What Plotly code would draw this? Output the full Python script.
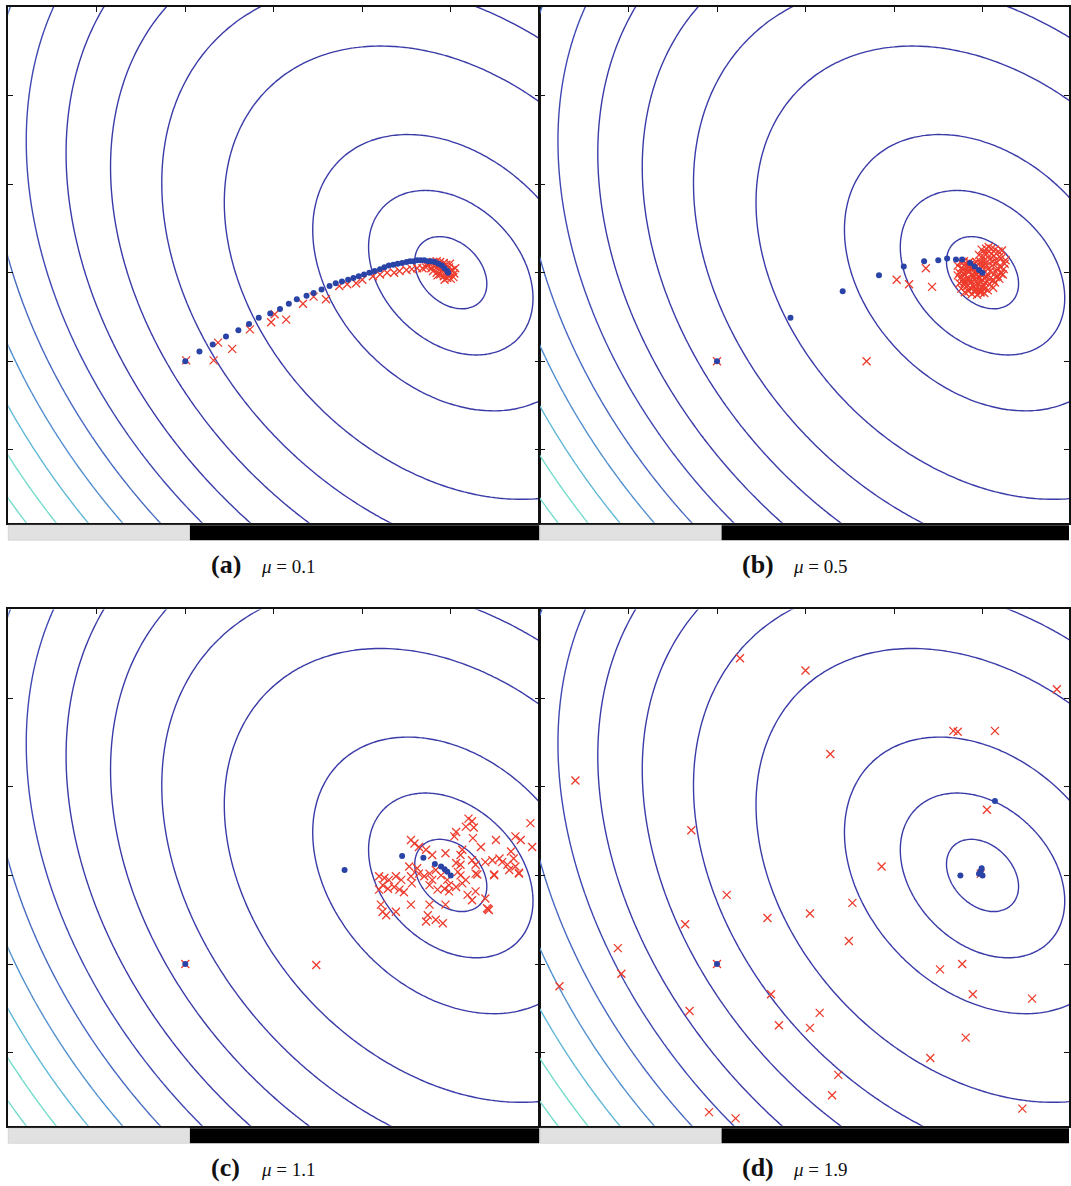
import numpy as np
import plotly.graph_objects as go

# ---------------------------------------------------------------------------
# Objective: f(x, y) = dx^2 + 2*b*dx*dy + dy^2 around the minimiser (5, 3)
# ---------------------------------------------------------------------------
centre = (5.0, 3.0)
coupling = 0.31
inner_levels = [0.15, 0.78]            # two small ellipses near the optimum
outer_start, outer_step, outer_end = 2.2, 3.72, 39.4

# swarm-mean trajectory (blue) and sampled particles (red) for each mu
mu_values = ["0.1", "0.5", "1.1", "1.9"]
panel_tags = ["(a)", "(b)", "(c)", "(d)"]

mean_a_x = [2.00, 2.16, 2.31, 2.46, 2.60, 2.72, 2.83, 2.96, 3.07, 3.17, 3.26, 3.37,
            3.45, 3.54, 3.63, 3.70, 3.77, 3.84, 3.90, 3.96, 4.02, 4.08, 4.14, 4.20,
            4.25, 4.30, 4.35, 4.40, 4.45, 4.50, 4.54, 4.58, 4.62, 4.66, 4.70, 4.74,
            4.78, 4.82, 4.86, 4.90, 4.93, 4.96, 4.97]
mean_a_y = [2.00, 2.11, 2.19, 2.28, 2.35, 2.42, 2.49, 2.54, 2.59, 2.65, 2.70, 2.74,
            2.77, 2.81, 2.85, 2.88, 2.90, 2.92, 2.94, 2.96, 2.98, 3.00, 3.02, 3.04,
            3.06, 3.08, 3.09, 3.10, 3.11, 3.12, 3.13, 3.13, 3.14, 3.14, 3.14, 3.13,
            3.13, 3.12, 3.10, 3.08, 3.05, 3.02, 3.00]
sample_a_x = [2.01, 2.32, 2.37, 2.53, 2.73, 2.97, 3.01, 3.14, 3.33, 3.45, 3.59, 3.74,
              3.83, 3.93, 4.00, 4.12, 4.20, 4.28, 4.36, 4.42, 4.50, 4.56, 4.62, 4.68,
              4.72, 4.76, 4.80, 4.84, 4.88, 4.92, 4.95, 4.98, 5.02, 5.04, 5.03, 5.00,
              4.96, 4.92, 4.88, 4.84, 4.80, 4.78, 4.82, 4.86, 4.90, 4.94, 4.97, 4.99,
              4.91, 4.87, 4.85, 4.93, 5.05, 4.99, 4.73]
sample_a_y = [2.01, 2.01, 2.21, 2.14, 2.36, 2.44, 2.53, 2.47, 2.65, 2.73, 2.70, 2.85,
              2.87, 2.88, 2.92, 2.96, 2.98, 3.00, 3.00, 3.02, 3.03, 3.04, 3.05, 3.05,
              3.06, 3.10, 3.12, 3.13, 3.12, 3.11, 3.09, 3.06, 3.03, 2.99, 2.95, 2.93,
              2.94, 2.96, 2.98, 3.00, 3.02, 3.05, 3.07, 3.05, 3.03, 3.01, 2.98, 3.01,
              3.07, 3.09, 2.97, 2.92, 3.05, 3.10, 3.08]

mean_b_x = [2.00, 2.83, 3.42, 3.83, 4.11, 4.34, 4.50, 4.60, 4.70, 4.77, 4.86, 4.91, 4.96, 5.00]
mean_b_y = [2.00, 2.49, 2.79, 2.97, 3.07, 3.13, 3.14, 3.16, 3.15, 3.15, 3.11, 3.07, 3.03, 3.00]
sample_b_x = [2.00, 3.69, 4.03, 4.17, 4.36, 4.43,
              4.74, 4.76, 4.78, 4.80, 4.80, 4.82, 4.83, 4.84, 4.85, 4.86, 4.87, 4.88,
              4.89, 4.90, 4.91, 4.92, 4.93, 4.94, 4.95, 4.96, 4.97, 4.98, 4.99, 5.00,
              5.01, 5.02, 4.77, 4.81, 4.86, 4.72,
              4.98, 5.01, 5.03, 5.05, 5.06, 5.08, 5.10, 5.11, 5.13, 5.15, 5.16, 5.18,
              5.20, 5.21, 5.23, 5.25, 5.07, 5.12, 5.04, 5.17,
              4.97, 5.03, 5.08, 5.12, 4.92, 5.06,
              4.72, 4.74, 4.75, 4.76, 4.78, 4.79, 4.80, 4.81, 4.83, 4.84, 4.85, 4.86,
              4.87, 4.88, 4.89, 4.90, 4.91, 4.92, 4.93, 4.94, 4.95, 4.96, 4.97, 4.98,
              4.99, 5.00, 5.01, 5.02, 5.03, 5.04, 4.82, 4.84, 4.88, 4.76, 4.79, 4.93,
              4.96, 4.99, 5.02, 5.05, 5.07, 5.09, 5.10, 5.12, 5.14, 5.15, 5.17, 5.19,
              5.21, 5.22, 5.24, 5.26, 5.08, 5.14, 5.19, 5.02]
sample_b_y = [2.00, 2.00, 2.92, 2.87, 3.05, 2.84,
              3.00, 2.95, 3.04, 2.90, 2.98, 3.06, 2.86, 2.94, 3.01, 3.09, 2.89, 2.97,
              3.04, 2.84, 2.92, 3.00, 3.07, 2.88, 2.95, 3.03, 2.81, 2.90, 2.98, 3.06,
              2.86, 2.94, 2.91, 3.10, 2.83, 2.97,
              3.12, 3.18, 3.10, 3.22, 3.04, 3.15, 3.27, 3.08, 3.19, 3.01, 3.12, 3.24,
              3.06, 3.16, 2.98, 3.10, 2.97, 2.92, 3.27, 2.96,
              2.78, 2.82, 2.87, 2.83, 2.79, 2.80,
              3.08, 2.88, 3.12, 2.82, 2.99, 3.13, 2.78, 2.93, 3.02, 2.79, 3.12, 2.92,
              3.03, 2.76, 2.86, 3.10, 2.96, 2.81, 3.12, 2.75, 3.00, 2.87, 2.94, 2.78,
              3.09, 2.83, 2.99, 2.77, 2.89, 2.95, 2.84, 3.07, 3.06, 3.05, 2.87, 2.90,
              3.20, 3.26, 3.14, 3.08, 3.29, 3.02, 3.21, 3.13, 3.26, 2.95, 3.05, 3.18,
              2.99, 3.25, 3.04, 3.14, 2.93, 2.89, 2.93, 3.22]

mean_c_x = [2.00, 3.80, 4.45, 4.69, 4.82, 4.89, 4.93, 4.96, 5.00]
mean_c_y = [2.00, 3.06, 3.22, 3.20, 3.13, 3.10, 3.07, 3.04, 3.00]
sample_c_x = [2.00, 3.48,
              5.20, 5.24, 5.17, 5.06, 5.04, 5.26, 5.25, 5.34, 5.90, 5.73, 5.79, 5.92,
              5.51, 5.68, 5.71,
              4.19, 4.25, 4.30, 4.38, 4.44, 4.23, 4.29, 4.36, 4.42, 4.47, 4.19, 4.55, 4.56,
              4.55, 4.59, 4.64, 4.72,
              4.79, 4.94, 5.11, 5.13, 5.24, 5.28, 5.39, 5.47, 5.55, 5.58, 5.64, 5.73,
              5.66, 5.77, 5.49, 5.30, 5.08, 5.11, 5.17, 5.13, 5.06, 4.96, 4.98, 4.93,
              4.85, 4.76, 4.79, 4.70, 4.64, 4.76, 4.89, 4.83, 4.98, 5.19, 5.28, 5.24,
              5.39, 5.41, 5.43, 4.94, 4.76, 4.74, 4.83, 4.72, 4.91, 4.55, 4.38, 4.23,
              4.21, 4.27, 4.53, 4.62, 5.06, 5.11, 5.28, 5.49, 5.77, 5.42]
sample_c_y = [2.00, 1.99,
              3.64, 3.61, 3.55, 3.49, 3.44, 3.54, 3.42, 3.32, 3.59, 3.44, 3.40, 3.32,
              3.40, 3.27, 3.19,
              2.99, 2.97, 2.95, 2.99, 2.95, 2.89, 2.85, 2.87, 2.84, 2.81, 2.84, 2.99, 2.91,
              3.40, 3.36, 3.32, 3.29,
              3.23, 3.25, 3.23, 3.29, 3.17, 3.12, 3.15, 3.17, 3.19, 3.15, 3.12, 3.10,
              3.06, 3.02, 3.01, 3.01, 3.04, 3.00, 2.95, 2.91, 2.87, 2.95, 2.89, 2.85,
              2.84, 2.89, 2.95, 2.99, 3.02, 3.02, 3.00, 3.06, 2.82, 2.78, 2.82, 2.72,
              2.74, 2.63, 2.61, 2.67, 2.67, 2.55, 2.50, 2.48, 2.46, 2.67, 2.59, 2.59,
              2.67, 2.55, 3.10, 3.08, 3.14, 3.12, 3.02, 3.00, 3.03, 2.62]

mean_d_x = [2.00, 5.14, 4.75, 4.96, 4.98, 4.99, 5.00]
mean_d_y = [2.00, 3.84, 3.00, 3.02, 3.05, 3.08, 3.00]
sample_d_x = [2.26, 3.00, 5.84, 4.67, 4.72, 5.14, 3.28, 0.40, 1.71, 5.05, 3.86, 4.98,
              2.11, 3.53, 3.05, 2.57, 1.64, 3.49, 0.88, 2.00, 0.92, 0.22, 4.52, 4.77,
              4.89, 5.56, 2.61, 1.69, 3.16, 2.70, 3.05, 4.81, 4.41, 3.37, 3.30, 5.45,
              1.91, 2.21]
sample_d_y = [5.45, 5.31, 5.10, 4.63, 4.62, 4.63, 4.37, 4.07, 3.51, 3.74, 3.10, 3.02,
              2.78, 2.69, 2.57, 2.52, 2.45, 2.26, 2.18, 2.00, 1.89, 1.75, 1.94, 2.00,
              1.66, 1.61, 1.66, 1.47, 1.45, 1.31, 1.28, 1.17, 0.94, 0.75, 0.52, 0.37,
              0.33, 0.26]

means = [(mean_a_x, mean_a_y), (mean_b_x, mean_b_y), (mean_c_x, mean_c_y), (mean_d_x, mean_d_y)]
samples = [(sample_a_x, sample_a_y), (sample_b_x, sample_b_y),
           (sample_c_x, sample_c_y), (sample_d_x, sample_d_y)]

# ---------------------------------------------------------------------------
W, H = 1071, 1186
LINE_DARK = "#3b3ba8"
# colours of the outer iso-lines, from the lowest level to the highest
outer_scale = [[0.0, LINE_DARK], [0.5, LINE_DARK], [0.6, "#4152b6"], [0.7, "#4a74c6"],
               [0.8, "#5698d2"], [0.9, "#61bcd8"], [1.0, "#74dccb"]]


def f(xg, yg):
    dx = xg - centre[0]
    dy = yg - centre[1]
    return dx * dx + 2 * coupling * dx * dy + dy * dy


gx = np.round(np.linspace(-0.1, 6.1, 125), 4)
gy = np.round(np.linspace(0.0, 6.1, 123), 4)
ZX, ZY = np.meshgrid(gx, gy)
Z_outer = np.round(f(ZX, ZY), 3)

hx = np.round(np.linspace(3.8, 6.2, 97), 4)
hy = np.round(np.linspace(1.8, 4.2, 97), 4)
HX, HY = np.meshgrid(hx, hy)
Z_inner = np.round(f(HX, HY), 4)


def px(x):
    return x / W


def py(y):
    return 1 - y / H


# pixel boxes of the four plotting areas: (left, right, top, bottom), x-range end
panels = [
    (8.3, 540.3, 7.0, 522.7, 6.0),
    (541.0, 1071.0, 7.0, 522.7, 5.977),
    (8.3, 540.3, 609.4, 1125.8, 6.0),
    (541.0, 1071.0, 609.4, 1125.8, 5.977),
]
y_bottom = [0.177, 0.177, 0.176, 0.176]

fig = go.Figure()
layout_axes = {}
shapes = []
annotations = []

for i, (l, r, t, b, xr) in enumerate(panels):
    n = "" if i == 0 else str(i + 1)
    xa, ya = "x" + n, "y" + n

    fig.add_trace(go.Contour(
        x=gx, y=gy, z=Z_outer, xaxis=xa, yaxis=ya,
        contours=dict(start=outer_start, end=outer_end + 0.05, size=outer_step, coloring="lines"),
        colorscale=outer_scale, zauto=False, zmin=outer_start, zmax=outer_end,
        line=dict(width=1.4), showscale=False, hoverinfo="skip"))
    fig.add_trace(go.Contour(
        x=hx, y=hy, z=Z_inner, xaxis=xa, yaxis=ya,
        contours=dict(start=inner_levels[0], end=inner_levels[1] + 0.01,
                      size=inner_levels[1] - inner_levels[0], coloring="none"),
        line=dict(width=1.4, color=LINE_DARK), showscale=False, hoverinfo="skip"))

    sx, sy = samples[i]
    fig.add_trace(go.Scatter(
        x=sx, y=sy, xaxis=xa, yaxis=ya, mode="markers",
        marker=dict(symbol="x-thin", size=8, line=dict(width=1.3, color="#ee3b2c")),
        hoverinfo="skip"))
    mx, my = means[i]
    fig.add_trace(go.Scatter(
        x=mx, y=my, xaxis=xa, yaxis=ya, mode="markers",
        marker=dict(symbol="circle", size=6, color="#2a43a6", line=dict(width=0)),
        hoverinfo="skip"))

    common = dict(showgrid=False, zeroline=False, showline=True, linecolor="#111",
                  linewidth=1.5, ticks="inside", ticklen=5, tickwidth=1.2,
                  tickcolor="#111", tickvals=[1, 2, 3, 4, 5], showticklabels=False,
                  fixedrange=True)
    layout_axes["xaxis" + n] = dict(common, domain=[px(l), px(r)], range=[0, xr],
                                    anchor=ya, side="top", mirror=True)
    layout_axes["yaxis" + n] = dict(common, domain=[py(b), py(t)],
                                    range=[y_bottom[i], 6.0], anchor=xa, mirror="ticks")

    # slider strip under each plot
    split = l + 182.0
    shapes.append(dict(type="rect", xref="paper", yref="paper",
                       x0=px(l), x1=px(split), y0=py(b + 17.5), y1=py(b + 2.5),
                       fillcolor="#e1e1e1", line=dict(width=0.6, color="#c8c8c8")))
    shapes.append(dict(type="rect", xref="paper", yref="paper",
                       x0=px(split), x1=px(r), y0=py(b + 17.5), y1=py(b + 2.5),
                       fillcolor="#000000", line=dict(width=0)))

    # caption
    cy = b + 42
    annotations.append(dict(xref="paper", yref="paper", x=px(l + 218), y=py(cy),
                            text="<b>" + panel_tags[i] + "</b>", showarrow=False,
                            xanchor="center", yanchor="middle",
                            font=dict(family="Liberation Serif, Times New Roman, serif",
                                      size=26, color="#111")))
    annotations.append(dict(xref="paper", yref="paper", x=px(l + 281), y=py(cy + 2),
                            text="<i>μ</i> = " + mu_values[i], showarrow=False,
                            xanchor="center", yanchor="middle",
                            font=dict(family="Liberation Serif, Times New Roman, serif",
                                      size=19, color="#111")))

fig.update_layout(
    width=W, height=H, margin=dict(l=0, r=0, t=0, b=0),
    paper_bgcolor="white", plot_bgcolor="white", showlegend=False,
    shapes=shapes, annotations=annotations, **layout_axes)

fig.write_html("out.html")
